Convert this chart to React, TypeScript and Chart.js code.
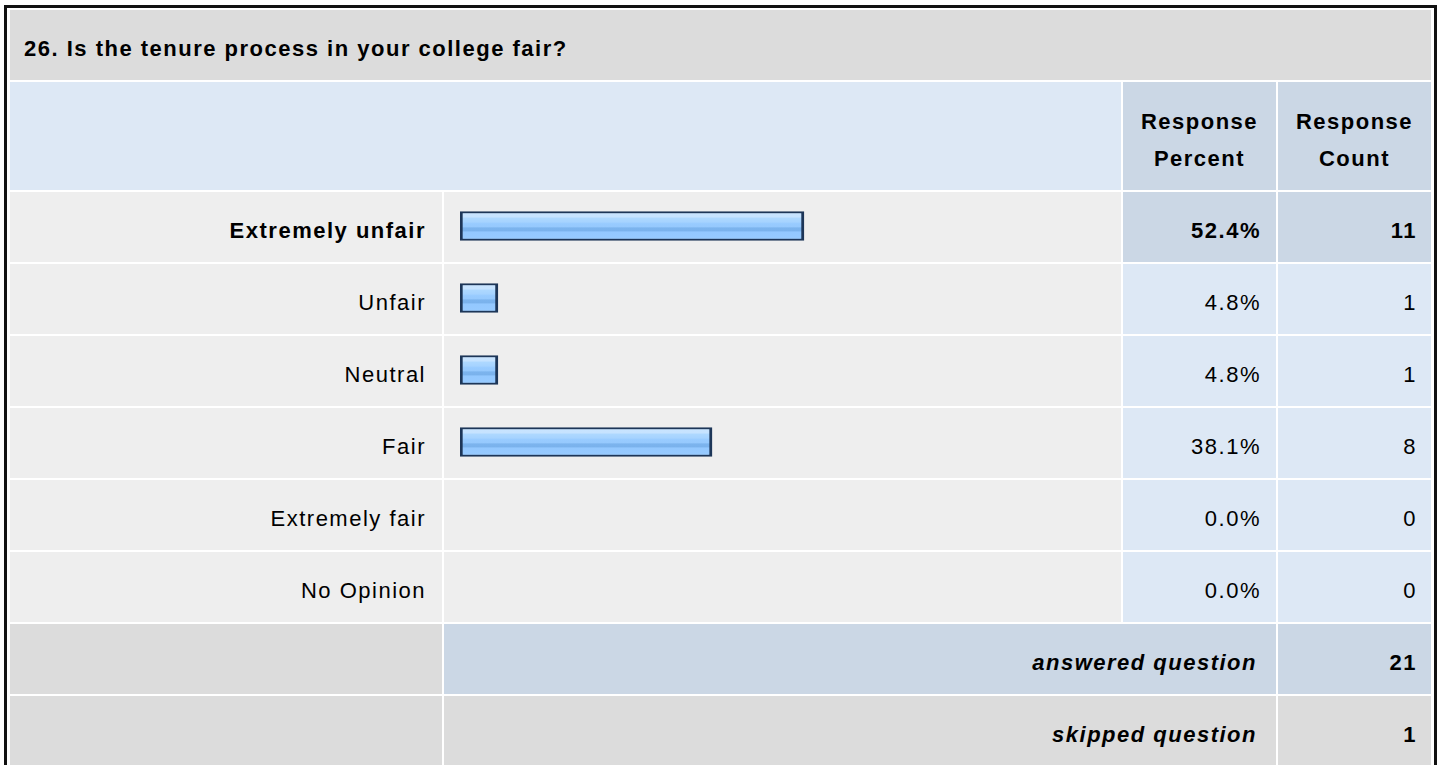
import React, { useEffect, useRef } from "react";
import { Chart, registerables } from "chart.js";

Chart.register(...registerables);

const title = "26. Is the tenure process in your college fair?";
const categories = ["Extremely unfair", "Unfair", "Neutral", "Fair", "Extremely fair", "No Opinion"];
const percents = [52.4, 4.8, 4.8, 38.1, 0.0, 0.0];
const counts = [11, 1, 1, 8, 0, 0];
const headerPercent = ["Response", "Percent"];
const headerCount = ["Response", "Count"];
const answeredLabel = "answered question";
const skippedLabel = "skipped question";
const answeredCount = 21;
const skippedCount = 1;

const FONT = '"Liberation Sans", Arial, Helvetica, sans-serif';
const C_TITLE = "#dcdcdc";
const C_HEAD_LIGHT = "#dde8f5";
const C_HEAD_DARK = "#cbd7e5";
const C_ROW = "#eeeeee";
const C_GRAY = "#dcdcdc";

const ROW_TOP = 192;
const ROW_STEP = 72;
const ROW_H = 70;

type CellProps = {
  x: number; y: number; w: number; h: number; bg: string;
  align?: "left" | "right" | "center";
  bold?: boolean; italic?: boolean; pr?: number; pl?: number;
  children?: React.ReactNode; lineHeight?: string;
};

function Cell({ x, y, w, h, bg, align = "right", bold, italic, pr = 16, pl = 14, children, lineHeight }: CellProps) {
  return (
    <div
      style={{
        position: "absolute",
        left: x,
        top: y,
        width: w,
        height: h,
        background: bg,
        boxSizing: "border-box",
        display: "flex",
        alignItems: "center",
        justifyContent: align === "right" ? "flex-end" : align === "left" ? "flex-start" : "center",
        textAlign: align,
        paddingTop: 7,
        paddingRight: align === "right" ? pr : 0,
        paddingLeft: align === "left" ? pl : 0,
        fontFamily: FONT,
        fontSize: 22,
        letterSpacing: "1.5px",
        fontWeight: bold ? "bold" : "normal",
        fontStyle: italic ? "italic" : "normal",
        color: "#000",
        lineHeight: lineHeight || "normal",
        whiteSpace: "nowrap",
      }}
    >
      {children}
    </div>
  );
}

function BarChart() {
  const ref = useRef<HTMLCanvasElement | null>(null);
  useEffect(() => {
    if (!ref.current) return;
    const XMIN = -1.1;
    const chart = new Chart(ref.current, {
      type: "bar",
      data: {
        labels: categories,
        datasets: [
          {
            data: percents.map((v) => (v > 0 ? v : null)),
            base: XMIN,
            barThickness: 29,
            borderColor: "#1d3658",
            borderWidth: { top: 2, bottom: 2, left: 3, right: 3 },
            borderSkipped: false,
            backgroundColor: (c: any) => {
              const ch = c.chart;
              const ys = ch.scales && ch.scales.y;
              if (!ys || typeof c.dataIndex !== "number") return "#99ccff";
              const yc = ys.getPixelForValue(c.dataIndex);
              if (!Number.isFinite(yc)) return "#99ccff";
              const g = ch.ctx.createLinearGradient(0, yc - 14.5, 0, yc + 14.5);
              g.addColorStop(0, "#c9e5ff");
              g.addColorStop(0.18, "#c6e3ff");
              g.addColorStop(0.24, "#add8ff");
              g.addColorStop(0.36, "#a6d3ff");
              g.addColorStop(0.42, "#98cbff");
              g.addColorStop(0.52, "#96c9fd");
              g.addColorStop(0.57, "#7cb4ee");
              g.addColorStop(0.66, "#7ab2ec");
              g.addColorStop(0.71, "#93c8ff");
              g.addColorStop(1, "#98cbff");
              return g;
            },
          } as any,
        ],
      },
      options: {
        indexAxis: "y",
        responsive: false,
        maintainAspectRatio: false,
        animation: false,
        layout: { padding: 0 },
        plugins: { legend: { display: false }, tooltip: { enabled: false } },
        scales: {
          x: { type: "linear", min: XMIN, max: 100, display: false },
          y: { display: false, offset: true },
        },
      },
    });
    return () => chart.destroy();
  }, []);
  return (
    <canvas
      ref={ref}
      width={650}
      height={432}
      style={{ position: "absolute", left: 460, top: 190, width: 650, height: 432 }}
    />
  );
}

export default function App() {
  const maxIdx = counts.indexOf(Math.max(...counts));
  const pct = (v: number) => `${v.toFixed(1)}%`;
  return (
    <div style={{ position: "absolute", left: 0, top: 0, width: 1440, height: 765, overflow: "hidden", background: "#fff" }}>
      <div
        style={{
          position: "absolute",
          left: 4,
          top: 5,
          width: 1433,
          height: 820,
          border: "3px solid #111",
          boxSizing: "border-box",
          background: "#fff",
        }}
      />
      <Cell x={10} y={10} w={1421} h={70} bg={C_TITLE} align="left" bold pl={14}>
        {title}
      </Cell>
      <Cell x={10} y={82} w={1111} h={108} bg={C_HEAD_LIGHT} />
      <Cell x={1123} y={82} w={153} h={108} bg={C_HEAD_DARK} align="center" bold lineHeight="37px">
        <div>{headerPercent[0]}<br />{headerPercent[1]}</div>
      </Cell>
      <Cell x={1278} y={82} w={153} h={108} bg={C_HEAD_DARK} align="center" bold lineHeight="37px">
        <div>{headerCount[0]}<br />{headerCount[1]}</div>
      </Cell>
      {categories.map((cat, i) => {
        const y = ROW_TOP + ROW_STEP * i;
        const hi = i === maxIdx;
        return (
          <React.Fragment key={cat}>
            <Cell x={10} y={y} w={432} h={ROW_H} bg={C_ROW} bold={hi} pr={16}>{cat}</Cell>
            <Cell x={444} y={y} w={677} h={ROW_H} bg={C_ROW} />
            <Cell x={1123} y={y} w={153} h={ROW_H} bg={hi ? C_HEAD_DARK : C_HEAD_LIGHT} bold={hi} pr={15}>{pct(percents[i])}</Cell>
            <Cell x={1278} y={y} w={153} h={ROW_H} bg={hi ? C_HEAD_DARK : C_HEAD_LIGHT} bold={hi} pr={14}>{counts[i]}</Cell>
          </React.Fragment>
        );
      })}
      <Cell x={10} y={624} w={432} h={ROW_H} bg={C_GRAY} />
      <Cell x={444} y={624} w={832} h={ROW_H} bg={C_HEAD_DARK} bold italic pr={19}>{answeredLabel}</Cell>
      <Cell x={1278} y={624} w={153} h={ROW_H} bg={C_HEAD_DARK} bold pr={14}>{answeredCount}</Cell>
      <Cell x={10} y={696} w={432} h={ROW_H} bg={C_GRAY} />
      <Cell x={444} y={696} w={832} h={ROW_H} bg={C_GRAY} bold italic pr={19}>{skippedLabel}</Cell>
      <Cell x={1278} y={696} w={153} h={ROW_H} bg={C_GRAY} bold pr={14}>{skippedCount}</Cell>
      <BarChart />
    </div>
  );
}
